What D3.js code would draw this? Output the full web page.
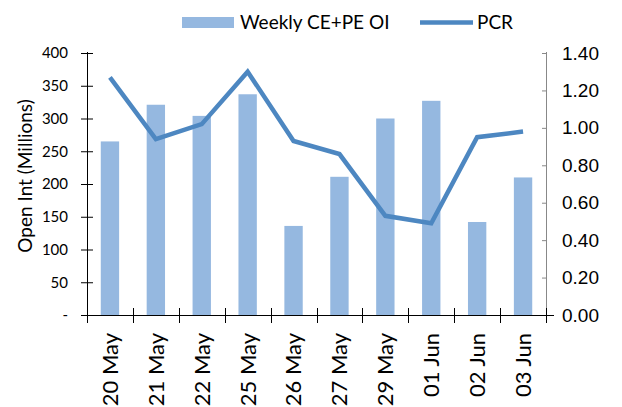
<!DOCTYPE html>
<html>
<head>
<meta charset="utf-8">
<script src="https://cdn.jsdelivr.net/npm/d3@7"></script>
<style>
	body { margin: 0; background: #fff; }
	svg { display: block; }
	text { fill: #000; }
	.lbl { font-family: Lato, "Open Sans", sans-serif; }
	.axis-left text { font-family: Lato, sans-serif; font-size: 15px; }
	.axis-right text { font-family: "Liberation Sans", Arial, sans-serif; font-size: 19px; }
	.axis-x text { font-family: Lato, sans-serif; font-size: 22px; }
	.bar { fill: #95b8e0; }
	.pcr { fill: none; stroke: #4d87c1; stroke-width: 4.5; stroke-linejoin: miter; }
</style>
</head>
<body>
<div id="chart"></div>
<script>
const dates = ["20 May", "21 May", "22 May", "25 May", "26 May", "27 May", "29 May", "01 Jun", "02 Jun", "03 Jun"];
const oiValues = [265, 321, 304, 337, 136, 211, 300, 327, 142, 210];
const pcrValues = [1.27, 0.94, 1.02, 1.30, 0.93, 0.86, 0.53, 0.49, 0.95, 0.98];
const leftTicks = [0, 50, 100, 150, 200, 250, 300, 350, 400];
const rightTicks = [0, 0.2, 0.4, 0.6, 0.8, 1.0, 1.2, 1.4];

const W = 622, H = 407;
const margin = { top: 53, right: 76, bottom: 92, left: 87 };
const width = W - margin.left - margin.right;
const height = H - margin.top - margin.bottom;

const svg = d3.select("#chart").append("svg").attr("width", W).attr("height", H);
const chart = svg.append("g").attr("transform", `translate(${margin.left}, ${margin.top})`);

const x = d3.scaleBand().domain(dates).range([0, width]).paddingInner(0.6).paddingOuter(0.3);
const yL = d3.scaleLinear().domain([0, 400]).range([height, 0]);
const yR = d3.scaleLinear().domain([0, 1.4]).range([height, 0]);

// bars
chart.selectAll(".bar")
	.data(dates)
	.enter()
	.append("rect")
	.attr("class", "bar")
	.attr("x", d => x(d))
	.attr("y", (d, i) => yL(oiValues[i]))
	.attr("width", x.bandwidth())
	.attr("height", (d, i) => height - yL(oiValues[i]));

// left axis, ticks crossing the line
const left = chart.append("g")
	.attr("class", "axis-left")
	.call(d3.axisLeft(yL).tickValues(leftTicks).tickSize(6).tickPadding(13)
		.tickFormat(d => d === 0 ? "-" : d3.format("d")(d)));
left.select(".domain").attr("stroke", "#000").attr("d", `M0.5,-1V${height + 7}`);
left.selectAll(".tick line").attr("x1", 6).attr("stroke", "#000");

// right axis, short inward ticks
const right = chart.append("g")
	.attr("class", "axis-right")
	.attr("transform", `translate(${width}, 0)`)
	.call(d3.axisRight(yR).tickValues(rightTicks).tickSize(-4).tickPadding(16)
		.tickFormat(d3.format(".2f")));
right.select(".domain").attr("stroke", "#888").attr("d", `M0.5,-1V${height}`);
right.selectAll(".tick line").attr("stroke", "#888");

// x axis line + boundary ticks
const step = x.step();
chart.append("line")
	.attr("x1", -6).attr("x2", width + 8)
	.attr("y1", height + 0.5).attr("y2", height + 0.5)
	.attr("stroke", "#000");
chart.selectAll(".xtick")
	.data(d3.range(dates.length + 1))
	.enter()
	.append("line")
	.attr("class", "xtick")
	.attr("x1", i => Math.round(i * step) + 0.5)
	.attr("x2", i => Math.round(i * step) + 0.5)
	.attr("y1", height - 7)
	.attr("y2", height + 8)
	.attr("stroke", "#000");

// x labels
const xa = chart.append("g")
	.attr("class", "axis-x")
	.attr("transform", `translate(0, ${height})`)
	.call(d3.axisBottom(x).tickSize(0));
xa.select(".domain").remove();
xa.selectAll("text")
	.attr("transform", "rotate(-90)")
	.attr("x", -18)
	.attr("y", 0)
	.attr("dy", "0.36em")
	.style("text-anchor", "end");

// PCR line
const line = d3.line()
	.x((d, i) => x(dates[i]) + x.bandwidth() / 2)
	.y(d => yR(d));
chart.append("path")
	.datum(pcrValues)
	.attr("class", "pcr")
	.attr("d", line);

// y title
svg.append("text")
	.attr("class", "lbl")
	.attr("transform", "rotate(-90)")
	.attr("x", -176)
	.attr("y", 25)
	.attr("dy", "0.35em")
	.attr("text-anchor", "middle")
	.style("font-size", "19px")
	.text("Open Int (Millions)");

// legend
const legend = svg.append("g");
legend.append("rect")
	.attr("class", "bar")
	.attr("x", 182).attr("y", 17)
	.attr("width", 52).attr("height", 11);
legend.append("text")
	.attr("class", "lbl")
	.attr("x", 240).attr("y", 28.5)
	.style("font-size", "19px")
	.text("Weekly CE+PE OI");
legend.append("line")
	.attr("x1", 420).attr("x2", 473)
	.attr("y1", 22.5).attr("y2", 22.5)
	.attr("stroke", "#4d87c1").attr("stroke-width", 4.5);
legend.append("text")
	.attr("class", "lbl")
	.attr("x", 477).attr("y", 28.5)
	.style("font-size", "19px")
	.text("PCR");
</script>
</body>
</html>
